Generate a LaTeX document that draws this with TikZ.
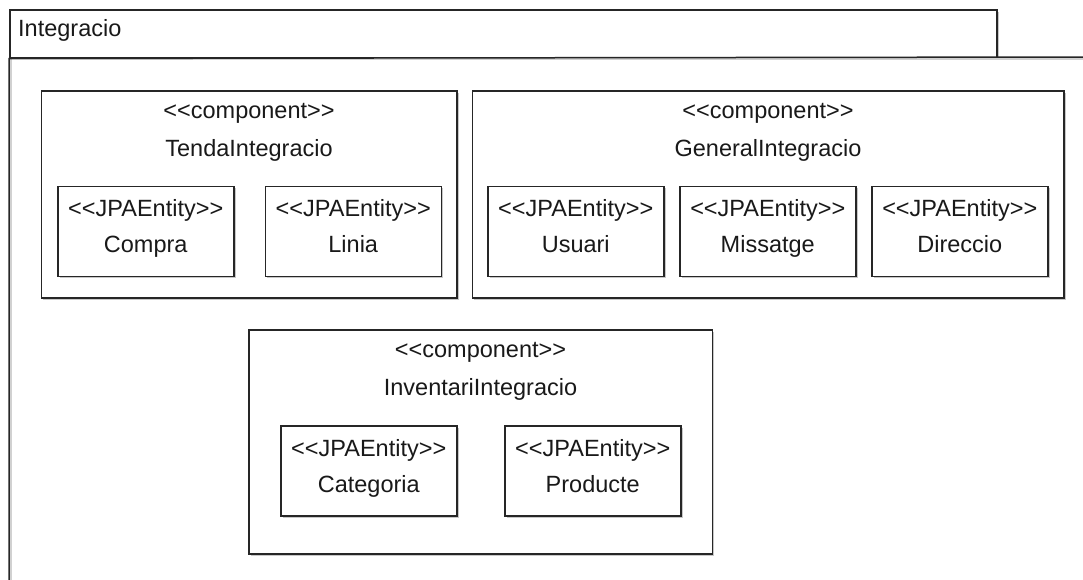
\documentclass[tikz,border=0pt]{standalone}
\usepackage{fontspec}
\setmainfont{Liberation Sans}[Ligatures=TeXOff]
\usetikzlibrary{calc,shadows}

\tikzset{
  ln/.style={line width=1.5pt, draw=black!85},
  shade box/.style={drop shadow={shadow xshift=2pt, shadow yshift=-2pt, opacity=0.22, fill=black}},
  box/.style={ln, fill=white, rectangle, inner sep=0pt, anchor=north west, shade box},
  entitybox/.style={box, minimum width=176pt, minimum height=90pt},
  txt/.style={font=\fontsize{23.5}{28}\selectfont, inner sep=0pt, anchor=base, text=black!90},
}

% an entity: node name, top-left corner, entity name
\newcommand\jpaentity[3]{%
  \node[entitybox] (#1) at (#2) {};
  \node[txt] (#1-st) at ($(#1.north)+(0,31)$) {<<JPAEntity>>};
  \node[txt] (#1-nm) at ($(#1.north)+(0,67)$) {#3};
}
% a component frame: node name, top-left corner, width, height, title
\newcommand\umlcomponent[5]{%
  \node[box, minimum width=#3pt, minimum height=#4pt] (#1) at (#2) {};
  \node[txt] (#1-st) at ($(#1.north)+(0,28)$) {<<component>>};
  \node[txt] (#1-nm) at ($(#1.north)+(0,66)$) {#5};
}

\begin{document}
\begin{tikzpicture}[x=1pt, y=-1pt]
  \useasboundingbox (0,0) rectangle (1083,579);
  \clip (0,0) rectangle (1083,579);

  % package frame: tab and open body
  \node[box, minimum width=987pt, minimum height=48pt] (pkgtab) at (9,9) {};
  \node[txt, anchor=base west] (pkglabel) at (18,36) {Integracio};
  \coordinate (pkgend) at (1095,57);
  \coordinate (pkgbot) at (9,595);
  \draw[line width=1.5pt, black!18] ($(pkgend)+(0,2)$) -- (11,59) -- ($(pkgbot)+(2,0)$);
  \draw[ln] (pkgend) -- (pkgtab.south west) -- (pkgbot);

  % components
  \umlcomponent{tenda}{40.5,90}{415.5}{207}{TendaIntegracio}
  \umlcomponent{general}{471.5,90}{591.5}{207}{GeneralIntegracio}
  \umlcomponent{inventari}{248,329}{463.5}{224}{InventariIntegracio}

  % entities
  \jpaentity{compra}{57,185.5}{Compra}
  \jpaentity{linia}{264.5,185.5}{Linia}
  \jpaentity{usuari}{487,185.5}{Usuari}
  \jpaentity{missatge}{679,185.5}{Missatge}
  \jpaentity{direccio}{871,185.5}{Direccio}
  \jpaentity{categoria}{280,425}{Categoria}
  \jpaentity{producte}{504,425}{Producte}
\end{tikzpicture}
\end{document}
